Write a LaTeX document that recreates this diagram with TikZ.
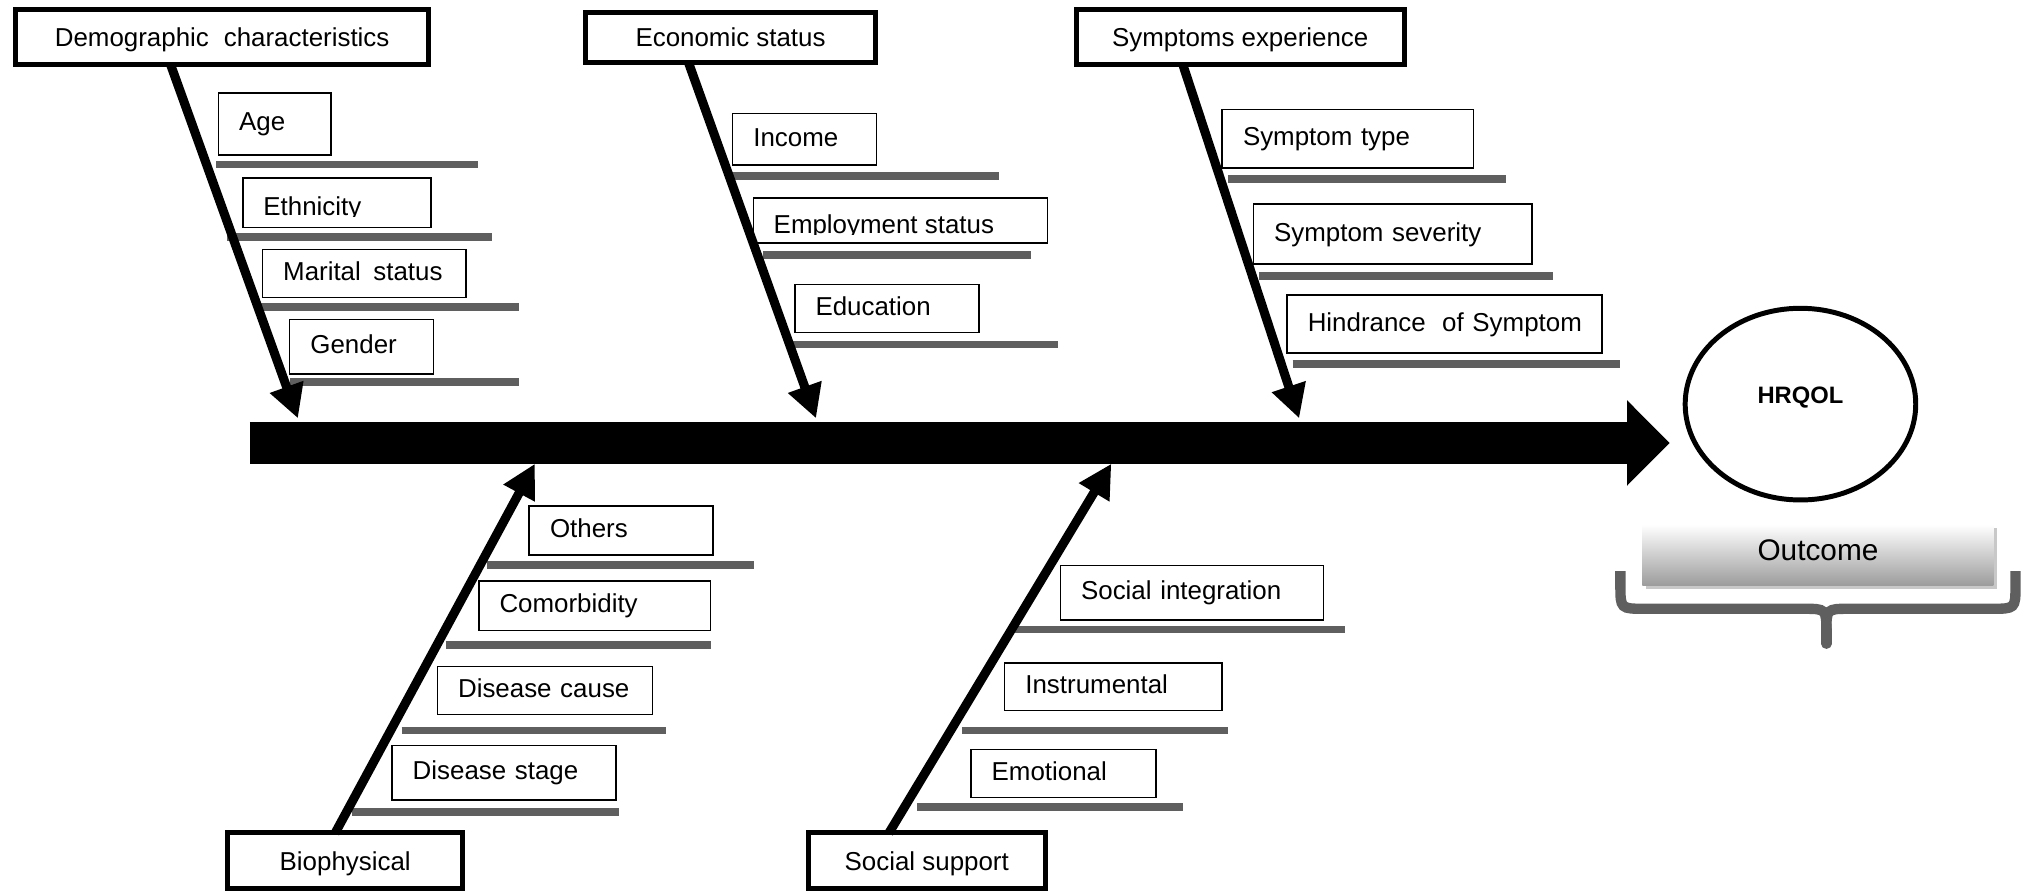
\documentclass[tikz,border=0pt]{standalone}
\usepackage{fontspec}
\setmainfont{Liberation Sans}
\usetikzlibrary{arrows.meta,shapes.geometric,calc,shadows}
\definecolor{rib}{HTML}{5F5F5F}
\definecolor{shadowgray}{HTML}{C8C8C8}
\definecolor{outcomegray}{HTML}{9C9C9C}
\newcommand{\lab}{\fontsize{12}{14}\selectfont}

\begin{document}
\begin{tikzpicture}[x=0.6pt,y=-0.6pt,
  mainbox/.style 2 args={draw, line width=2.3pt, fill=white,
    minimum width=#1*0.6pt, minimum height=#2*0.6pt, inner sep=0pt,
    text height=8.6pt, text depth=0pt, font=\lab},
  subbox/.style 2 args={draw, line width=0.75pt, fill=white, anchor=north west,
    minimum width=#1*0.6pt, minimum height=#2*0.6pt,
    inner xsep=0pt, inner ysep=0pt,
    /utils/exec={\pgfmathsetlengthmacro\subtw{#1*0.6pt}},
    text width=\subtw, align=left, text height=6.6pt, text depth=0pt,
    execute at begin node={\hyphenpenalty=10000\hspace*{9.6pt}}, font=\lab},
  cuttext/.style={anchor=base west, inner sep=0pt, font=\lab},
  ribline/.style={draw=rib, line width=3.5pt},
  branch/.style={draw, line width=4.2pt, shorten <=-1.5pt,
    -{Triangle[length=15.5pt,width=15.5pt]}},
  spinearrow/.style={draw, line width=19.2pt,
    -{Triangle[length=19.8pt,width=38.4pt]}},
]
\useasboundingbox (0,0) rectangle (1568,688);

% ---------- horizontal ribs under the factor boxes ----------
\draw[ribline] (167,127) -- (369,127);
\draw[ribline] (175,183) -- (380,183);
\draw[ribline] (201,237) -- (401,237);
\draw[ribline] (224,295) -- (401,295);
\draw[ribline] (562,136) -- (771,136);
\draw[ribline] (589,197) -- (796,197);
\draw[ribline] (612,266) -- (817,266);
\draw[ribline] (948,138) -- (1163,138);
\draw[ribline] (972,213) -- (1199,213);
\draw[ribline] (998,281) -- (1251,281);
\draw[ribline] (376,436) -- (582,436);
\draw[ribline] (344,498) -- (549,498);
\draw[ribline] (310,564) -- (514,564);
\draw[ribline] (272,627) -- (478,627);
\draw[ribline] (781,486) -- (1038,486);
\draw[ribline] (743,564) -- (948,564);
\draw[ribline] (708,623) -- (913,623);

% ---------- factor boxes ----------
\node[subbox={87}{48}]  (age) at (168,71)  {Age};
\node[subbox={145}{38}] (eth) at (187,137) {};
\begin{scope}
  \clip (188,138) rectangle (331,167);
  \node[cuttext] (etht) at (203,166) {Ethnicity};
\end{scope}
\node[subbox={157}{37}] (mar) at (202,192) {Marital\hspace{0.15em} status};
\node[subbox={111}{42}] (gen) at (223,246) {Gender};

\node[subbox={111}{40}] (inc) at (565,87)  {Income};
\node[subbox={227}{35}] (emp) at (581,152) {};
\begin{scope}
  \clip (582,153) rectangle (807,181);
  \node[cuttext] (empt) at (597,180) {Employment status};
\end{scope}
\node[subbox={142}{37}] (edu) at (613,219) {Education};

\node[subbox={194}{45}] (sty) at (943,84)  {Symptom type};
\node[subbox={215}{46}] (sev) at (967,157) {Symptom severity};
\node[subbox={243}{45}] (hin) at (993,227) {Hindrance\hspace{0.3em} of Symptom};

\node[subbox={142}{38}] (oth) at (408,390) {Others};
\node[subbox={179}{38}] (com) at (369,448) {Comorbidity};
\node[subbox={166}{37}] (dca) at (337,514) {Disease cause};
\node[subbox={173}{42}] (dst) at (302,575) {Disease stage};

\node[subbox={203}{42}] (sin) at (818,436) {Social integration};
\node[subbox={168}{37}] (ins) at (775,511) {Instrumental};
\node[subbox={143}{37}] (emo) at (749,578) {Emotional};

% ---------- category boxes ----------
\node[mainbox={319}{43}] (demo) at (171.5,28.5) {Demographic\hspace{0.3em} characteristics};
\node[mainbox={224}{38}] (econ) at (564,29)     {Economic status};
\node[mainbox={253}{43}] (symp) at (957.5,28.5) {Symptoms experience};
\node[mainbox={181}{43}] (bio)  at (266.5,664.5) {Biophysical};
\node[mainbox={183}{43}] (soc)  at (715.5,664.5) {Social support};

% ---------- outcome ----------
\node[ellipse, draw, line width=2.3pt, minimum width=178*0.6pt,
      minimum height=148*0.6pt, inner sep=0pt] (hrqol) at (1390,312) {};
\node[font=\fontsize{11}{13}\selectfont\bfseries] (hrqolt) at (1390,307) {HRQOL};

\node[minimum width=271*0.6pt, minimum height=47*0.6pt, inner sep=0pt,
      top color=white, bottom color=outcomegray,
      drop shadow={shadow xshift=1.8pt, shadow yshift=-1.8pt, fill=shadowgray, opacity=1},
      font=\fontsize{13.8}{16}\selectfont] (outc) at (1403.5,428.5)
      {\raisebox{5pt}{Outcome}};

% brace under the outcome label
\draw[rib, line width=4.8pt]
  (1251,441) -- (1251,452) .. controls (1251,470) .. (1270,470) -- (1392,470)
  .. controls (1410,470) .. (1410,488);
\draw[rib, line width=4.8pt]
  (1556,441) -- (1556,452) .. controls (1556,470) .. (1537,470) -- (1428,470)
  .. controls (1410,470) .. (1410,488);
\draw[rib, line width=4.8pt, line cap=round] (1410,486) -- (1410,497);

% ---------- spine ----------
\coordinate (spineL) at (193,342);
\coordinate (spineR) at (spineL -| hrqol.west);
\draw[spinearrow] (spineL) -- ([xshift=-6pt]spineR);

% ---------- branch arrows ----------
\coordinate (demotip) at (230,323);
\coordinate (econtip) at (630,323);
\coordinate (symptip) at (1003,323);
\coordinate (biotip)  at (413,358);
\coordinate (soctip)  at (858,358);
\draw[branch] ($(demo.south west)!0.379!(demo.south east)$) -- (demotip);
\draw[branch] ($(econ.south west)!0.36!(econ.south east)$) -- (econtip);
\draw[branch] ($(symp.south west)!0.33!(symp.south east)$) -- (symptip);
\draw[branch] ($(bio.north west)!0.464!(bio.north east)$) -- (biotip);
\draw[branch] ($(soc.north west)!0.35!(soc.north east)$) -- (soctip);
\end{tikzpicture}
\end{document}
